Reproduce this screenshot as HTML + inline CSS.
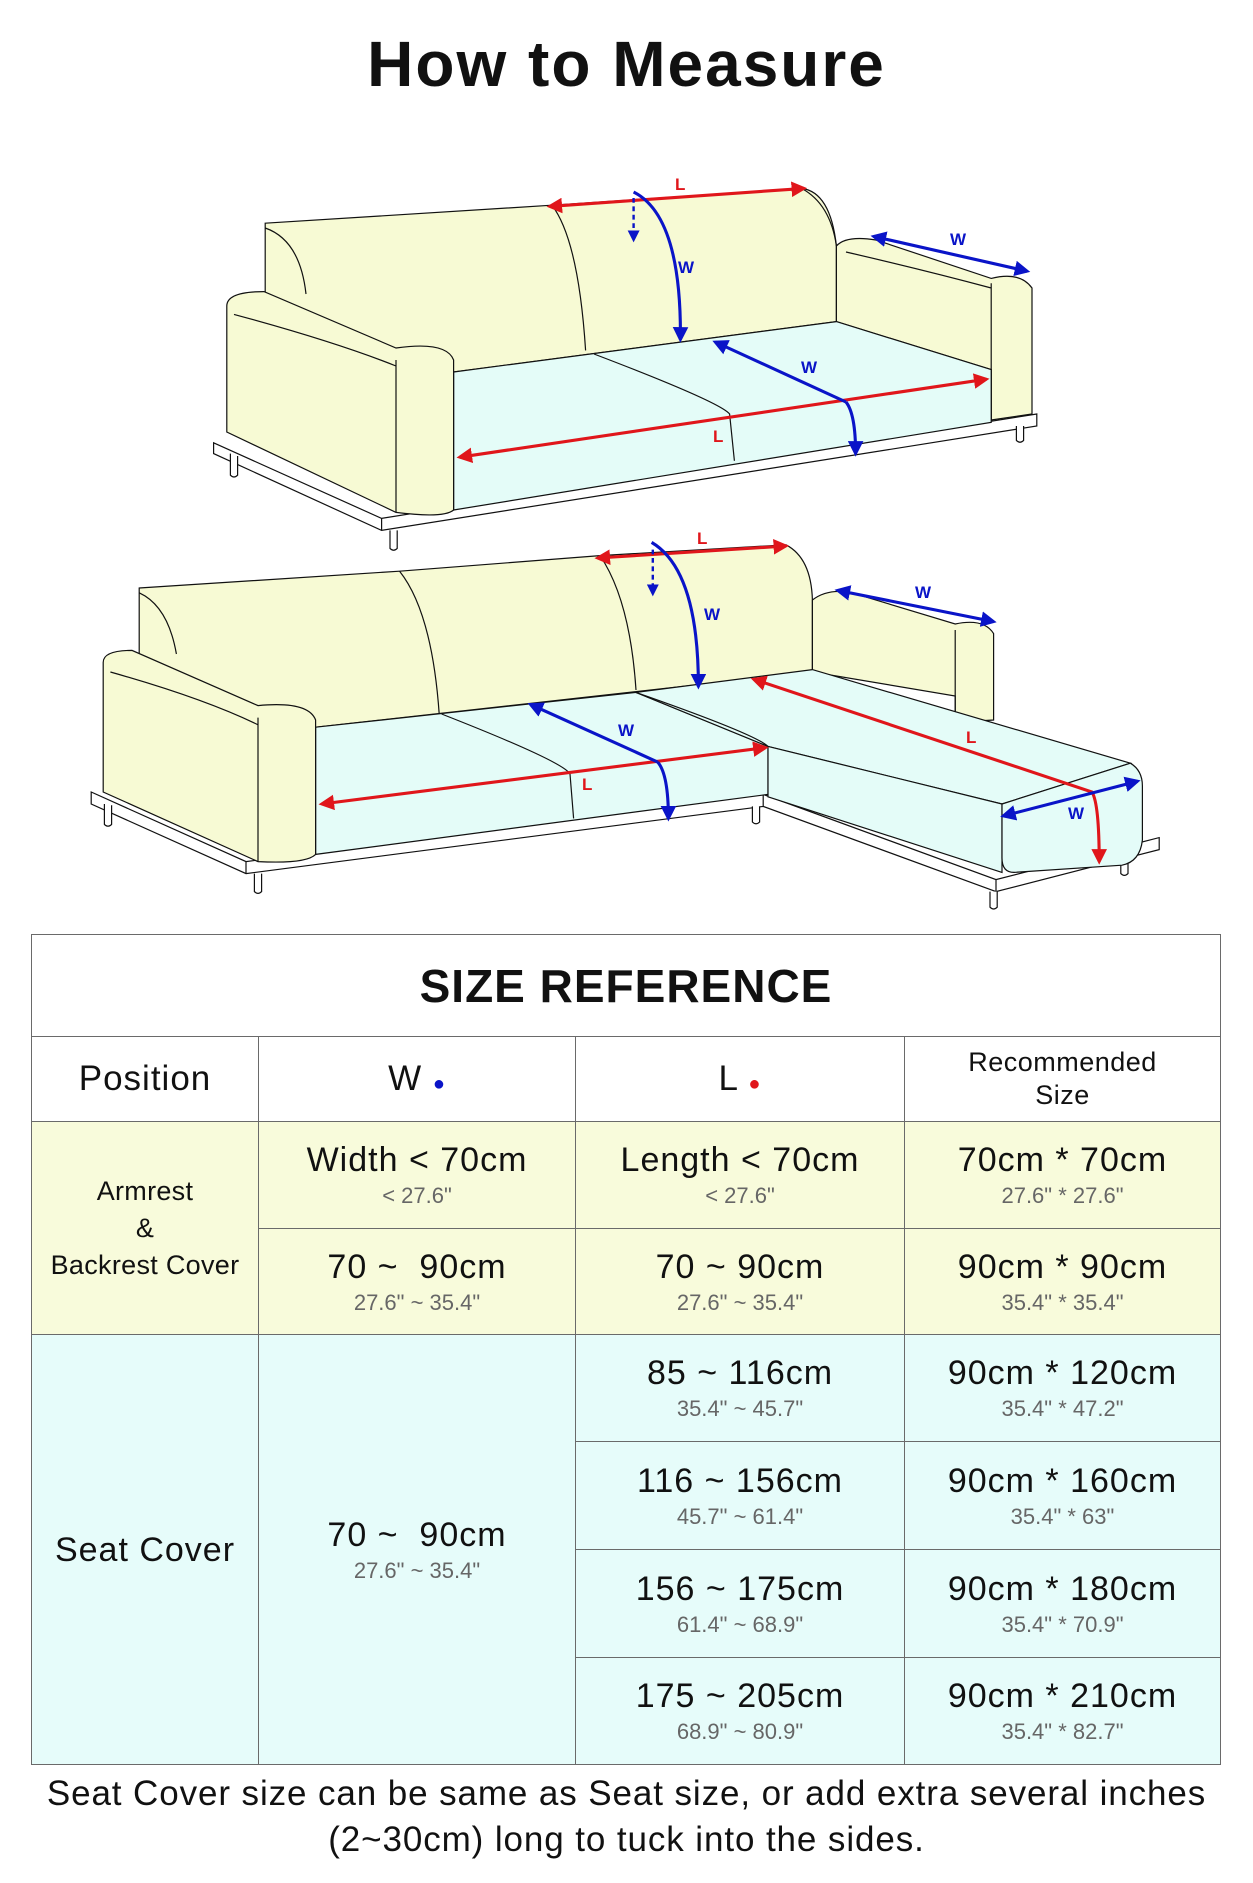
<!DOCTYPE html>
<html><head><meta charset="utf-8"><style>
*{margin:0;padding:0;box-sizing:border-box}
body{width:1253px;height:1883px;background:#fff;position:relative;font-family:"Liberation Sans",sans-serif;color:#111;overflow:hidden}
h1{position:absolute;left:0;width:1253px;top:26px;text-align:center;font-size:64px;font-weight:bold;letter-spacing:2px;line-height:76px}
.c{position:absolute;border:1px solid #6a6a6a;display:flex;flex-direction:column;align-items:center;justify-content:center;text-align:center}
.y{background:#f8fbdb}.b{background:#e6fcfa}
.m{font-size:34px;line-height:40px;letter-spacing:1px}
.s{font-size:22px;line-height:28px;color:#666;margin-top:2px}
.h{font-size:35px;letter-spacing:1px}
.foot{position:absolute;left:0;width:1253px;top:1771px;text-align:center;font-size:35px;line-height:46px;letter-spacing:0.9px}
</style></head><body>
<h1>How to Measure</h1>
<svg width="1253" height="930" style="position:absolute;left:0;top:0">
<defs>
<marker id="ar" viewBox="0 0 10 10" refX="8" refY="5" markerWidth="5" markerHeight="5" orient="auto-start-reverse"><path d="M0,0L10,5L0,10z" fill="#e0161b"/></marker>
<marker id="ab" viewBox="0 0 10 10" refX="8" refY="5" markerWidth="5" markerHeight="5" orient="auto-start-reverse"><path d="M0,0L10,5L0,10z" fill="#0a14c8"/></marker>
</defs>
<g transform="scale(1.2)" stroke="#111" stroke-width="1" fill="none">
<!-- SOFA 1 -->
<path d="M178,369 L318,432 L864,345 L864,355 L318,442 L178,378Z" fill="#fff"/>
<line x1="318" y1="432" x2="318" y2="442"/>
<path d="M192,378v18q3,3 6,0v-16M325,442v15q3,3 6,0v-15M847,355v12q3,3 6,0v-12" fill="#fff"/>
<path d="M221,186 L460,171 L668,157 Q692,160 697,205 L697,268 L378,310 L330,300 L221,250Z" fill="#f7fad4"/>
<path d="M221,190 Q250,200 255,245M460,171 Q482,200 488,292M668,157 Q692,170 697,205"/>
<path d="M697,205 Q705,196 730,200 L826,232 Q850,226 860,240 L860,345 L826,350 L826,308 L697,268Z" fill="#f7fad4"/>
<path d="M826,236 L826,350M705,210 Q770,225 826,240"/>
<path d="M378,310 L697,268 L826,308 L826,352 L378,425Z" fill="#e4fcf8"/>
<path d="M495,295 Q600,335 608,345 L612,384"/>
<path d="M189,255 Q189,243 220,243 L330,290 Q372,284 378,300 L378,425 Q370,432 330,427 L189,360Z" fill="#f7fad4"/>
<path d="M330,300 L330,427M195,262 Q280,285 330,305"/>
<!-- SOFA 2 -->
<path d="M76,660 L205,718 L636,662 L830,733 L966,698 L966,708 L830,743 L636,672 L205,728 L76,670Z" fill="#fff"/>
<path d="M205,718v10M636,662v10M830,733v10"/>
<path d="M87,670v17q3,3 6,0v-16M212,728v15q3,3 6,0v-15M627,672v13q3,3 6,0v-13M825,743v13q3,3 6,0v-13M934,708v20q3,3 6,0v-20" fill="#fff"/>
<path d="M116,490 L333,476 L500,463 L655,454 Q676,465 677,500 L677,560 L263,606 L215,590 L116,545Z" fill="#f7fad4"/>
<path d="M116,494 Q140,505 147,545M333,476 Q360,510 366,595M500,463 Q525,500 530,575"/>
<path d="M677,500 Q690,490 710,494 L796,520 Q820,515 828,528 L828,600 L796,602 L796,580 L677,560Z" fill="#f7fad4"/>
<path d="M796,525 L796,602"/>
<path d="M263,606 L530,577 L640,622 L640,662 L263,712Z" fill="#e4fcf8"/>
<path d="M530,577 L677,558 L942,636 L835,670 L640,622Z" fill="#e4fcf8"/>
<path d="M640,622 L835,670 L835,727 L640,664Z" fill="#e4fcf8"/>
<path d="M835,670 L942,636 Q952,642 952,655 L952,700 Q950,718 935,721 L845,727 Q835,727 835,715Z" fill="#e4fcf8"/>
<path d="M368,595 Q470,635 475,645 L478,682M530,577 Q630,612 640,622"/>
<path d="M86,552 Q86,542 110,542 L215,588 Q257,584 263,600 L263,712 Q255,720 215,718 L86,660Z" fill="#f7fad4"/>
<path d="M215,598 L215,718M92,560 Q170,582 215,604"/>
</g>
<g transform="scale(1.2)" fill="none" stroke-width="2.6">
<g stroke="#e0161b" marker-start="url(#ar)" marker-end="url(#ar)">
<line x1="458" y1="172" x2="670" y2="157"/>
<line x1="383" y1="381" x2="822" y2="316"/>
<line x1="498" y1="465" x2="655" y2="455"/>
<line x1="268" y1="670" x2="638" y2="623"/>
</g>
<path d="M628,566 L910,660 Q916,670 916,718" stroke="#e0161b" marker-start="url(#ar)" marker-end="url(#ar)"/>
<g stroke="#0a14c8" marker-end="url(#ab)" marker-start="url(#ab)">
<line x1="728" y1="197" x2="856" y2="226"/>
<line x1="698" y1="492" x2="828" y2="518"/>
<line x1="836" y1="680" x2="948" y2="651"/>
</g>
<g stroke="#0a14c8" marker-end="url(#ab)">
<path d="M528,160 Q568,180 567,283"/>
<path d="M543,452 Q582,475 582,572"/>
<path d="M705,335 Q713,345 713,378" />
<path d="M548,635 Q557,645 557,682"/>
</g>
<g stroke="#0a14c8" marker-start="url(#ab)">
<line x1="596" y1="285" x2="705" y2="335"/>
<line x1="442" y1="587" x2="548" y2="635"/>
</g>
<g stroke="#0a14c8" stroke-dasharray="4,3" stroke-width="2" marker-end="url(#ab)">
<line x1="528" y1="165" x2="528" y2="200"/>
<line x1="544" y1="458" x2="544" y2="495"/>
</g>
</g>
<g font-family="Liberation Sans" font-weight="bold" font-size="17">
<g fill="#e0161b"><text x="675" y="190">L</text><text x="713" y="442">L</text><text x="697" y="544">L</text><text x="582" y="790">L</text><text x="966" y="743">L</text></g>
<g fill="#0a14c8"><text x="678" y="273">W</text><text x="950" y="245">W</text><text x="801" y="373">W</text><text x="704" y="620">W</text><text x="915" y="598">W</text><text x="618" y="736">W</text><text x="1068" y="819">W</text></g>
</g>
</svg>

<div class="c" style="left:31px;top:934px;width:1190px;height:103px"><div style="font-size:46px;font-weight:bold;letter-spacing:1px">SIZE REFERENCE</div></div>
<div class="c" style="left:31px;top:1036px;width:228px;height:86px"><div class="h">Position</div></div>
<div class="c" style="left:258px;top:1036px;width:318px;height:86px"><div class="h">W <span style="color:#0a14c8;font-size:20px">●</span></div></div>
<div class="c" style="left:575px;top:1036px;width:330px;height:86px"><div class="h">L <span style="color:#e0161b;font-size:20px">●</span></div></div>
<div class="c" style="left:904px;top:1036px;width:317px;height:86px"><div style="font-size:27px;line-height:33px;letter-spacing:0.5px">Recommended<br>Size</div></div>

<div class="c y" style="left:31px;top:1121px;width:228px;height:214px"><div style="font-size:27px;line-height:37px;letter-spacing:0.3px">Armrest<br>&amp;<br>Backrest Cover</div></div>
<div class="c y" style="left:258px;top:1121px;width:318px;height:108px"><div class="m">Width &lt; 70cm</div><div class="s">&lt; 27.6"</div></div>
<div class="c y" style="left:575px;top:1121px;width:330px;height:108px"><div class="m">Length &lt; 70cm</div><div class="s">&lt; 27.6"</div></div>
<div class="c y" style="left:904px;top:1121px;width:317px;height:108px"><div class="m">70cm * 70cm</div><div class="s">27.6" * 27.6"</div></div>
<div class="c y" style="left:258px;top:1228px;width:318px;height:107px"><div class="m">70 ~&nbsp; 90cm</div><div class="s">27.6" ~ 35.4"</div></div>
<div class="c y" style="left:575px;top:1228px;width:330px;height:107px"><div class="m">70 ~ 90cm</div><div class="s">27.6" ~ 35.4"</div></div>
<div class="c y" style="left:904px;top:1228px;width:317px;height:107px"><div class="m">90cm * 90cm</div><div class="s">35.4" * 35.4"</div></div>

<div class="c b" style="left:31px;top:1334px;width:228px;height:431px"><div class="m">Seat Cover</div></div>
<div class="c b" style="left:258px;top:1334px;width:318px;height:431px"><div class="m">70 ~&nbsp; 90cm</div><div class="s">27.6" ~ 35.4"</div></div>
<div class="c b" style="left:575px;top:1334px;width:330px;height:108px"><div class="m">85 ~ 116cm</div><div class="s">35.4" ~ 45.7"</div></div>
<div class="c b" style="left:904px;top:1334px;width:317px;height:108px"><div class="m">90cm * 120cm</div><div class="s">35.4" * 47.2"</div></div>
<div class="c b" style="left:575px;top:1441px;width:330px;height:109px"><div class="m">116 ~ 156cm</div><div class="s">45.7" ~ 61.4"</div></div>
<div class="c b" style="left:904px;top:1441px;width:317px;height:109px"><div class="m">90cm * 160cm</div><div class="s">35.4" * 63"</div></div>
<div class="c b" style="left:575px;top:1549px;width:330px;height:109px"><div class="m">156 ~ 175cm</div><div class="s">61.4" ~ 68.9"</div></div>
<div class="c b" style="left:904px;top:1549px;width:317px;height:109px"><div class="m">90cm * 180cm</div><div class="s">35.4" * 70.9"</div></div>
<div class="c b" style="left:575px;top:1657px;width:330px;height:108px"><div class="m">175 ~ 205cm</div><div class="s">68.9" ~ 80.9"</div></div>
<div class="c b" style="left:904px;top:1657px;width:317px;height:108px"><div class="m">90cm * 210cm</div><div class="s">35.4" * 82.7"</div></div>

<div class="foot">Seat Cover size can be same as Seat size, or add extra several inches<br>(2~30cm) long to tuck into the sides.</div>
</body></html>
